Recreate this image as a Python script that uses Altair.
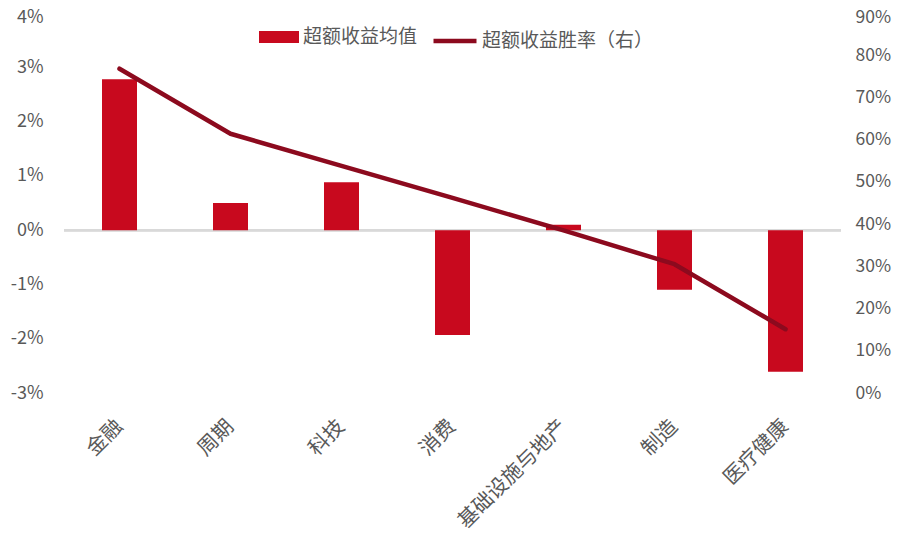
import altair as alt
import pandas as pd

categories = ["金融", "周期", "科技", "消费", "基础设施与地产", "制造", "医疗健康"]
excess_mean = [0.0278, 0.0050, 0.0088, -0.0193, 0.0010, -0.0110, -0.0261]
win_rate = [0.768, 0.614, 0.538, 0.462, 0.385, 0.305, 0.151]

bar_name = "超额收益均值"
line_name = "超额收益胜率（右）"

df = pd.DataFrame({"cat": categories, "ret": excess_mean, "win": win_rate})
df["s1"] = bar_name
df["s2"] = line_name

FONT = "Noto Sans CJK SC"
GRAY = "#595959"
BAR_C = "#C8091E"
LINE_C = "#8C0A1E"

x_enc = alt.X(
    "cat:N",
    sort=categories,
    scale=alt.Scale(paddingInner=0, paddingOuter=0),
    axis=alt.Axis(
        title=None, domain=False, ticks=False, labelAngle=315,
        labelAlign="right", labelBaseline="middle", labelPadding=30,
        labelFontSize=20.5, labelColor=GRAY, labelFont=FONT,
    ),
)

left_axis = alt.Axis(
    title=None, format=".0%", values=[-0.03, -0.02, -0.01, 0, 0.01, 0.02, 0.03, 0.04],
    labelExpr="replace(datum.label, '\u2212', '-')",
    labelOffset={"condition": {"test": "datum.value >= 0.035", "value": 4}, "value": 0},
    domain=False, ticks=False, grid=False, labelPadding=21,
    labelFontSize=18, labelColor=GRAY, labelFont=FONT,
)

base = alt.Chart(df)

rule = base.mark_rule(color="#D9D9D9", strokeWidth=2).encode(
    y=alt.datum(0, type="quantitative", scale=alt.Scale(domain=[-0.03, 0.04], nice=False), axis=left_axis)
)

bars = base.mark_bar(size=35).encode(
    x=x_enc,
    y=alt.Y("ret:Q", scale=alt.Scale(domain=[-0.03, 0.04], nice=False), axis=left_axis),
    color=alt.Color(
        "s1:N",
        scale=alt.Scale(domain=[bar_name], range=[BAR_C]),
        legend=alt.Legend(
            title=None, orient="none", legendX=195, legendY=4, direction="horizontal",
            symbolType="M-1,-0.3L1,-0.3L1,0.3L-1,0.3Z", symbolSize=1600,
            symbolStrokeWidth=0, labelOffset=4, labelLimit=400,
            labelFontSize=19, labelColor=GRAY, labelFont=FONT,
        ),
    ),
)

line = base.mark_line(strokeWidth=4.5, strokeCap="round", strokeJoin="round").encode(
    x=x_enc,
    y=alt.Y(
        "win:Q",
        scale=alt.Scale(domain=[0, 0.9], nice=False),
        axis=alt.Axis(
            title=None, orient="right", format=".0%",
            values=[0, 0.1, 0.2, 0.3, 0.4, 0.5, 0.6, 0.7, 0.8, 0.9],
            labelOffset={"condition": {"test": "datum.value >= 0.85", "value": 4}, "value": 0},
            domain=False, ticks=False, grid=False, labelPadding=14,
            labelFontSize=17.5, labelColor=GRAY, labelFont=FONT,
        ),
    ),
    color=alt.Color(
        "s2:N",
        scale=alt.Scale(domain=[line_name], range=[LINE_C]),
        legend=alt.Legend(
            title=None, orient="none", legendX=367, legendY=4, direction="horizontal",
            symbolType="stroke", symbolSize=1849, symbolStrokeWidth=4.5, labelOffset=3,
            labelLimit=400,
            labelFontSize=19, labelColor=GRAY, labelFont=FONT,
        ),
    ),
)

left = alt.layer(rule, bars)

chart = (
    alt.layer(left, line)
    .resolve_scale(y="independent", color="independent")
    .properties(
        width=777, height=380,
        background="white",
        autosize=alt.AutoSizeParams(type="none"),
        padding={"left": 56, "top": 5, "right": 51, "bottom": 148},
    )
    .configure_view(stroke=None)
)

chart.save("out.html", embed_options={"renderer": "svg", "actions": False})
